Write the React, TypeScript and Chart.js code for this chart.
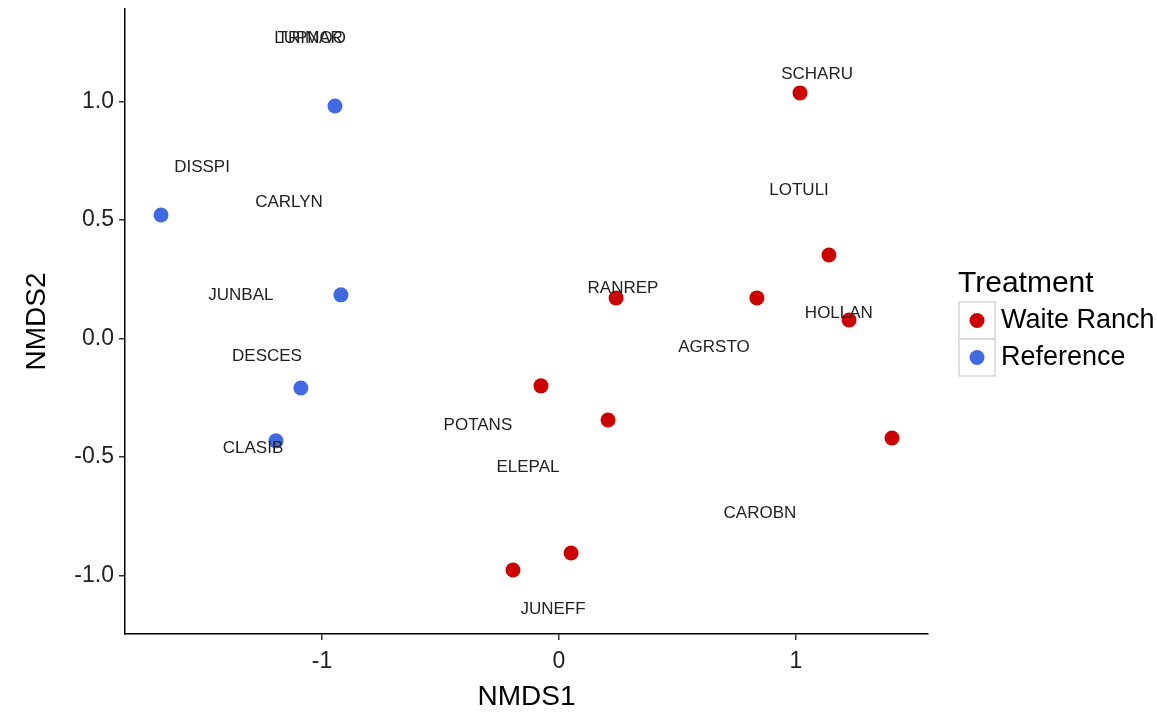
import React, { useEffect, useRef } from "react";
import { Chart, registerables } from "chart.js";

Chart.register(...registerables);

const waiteX = [1.017, 1.139, 0.835, 1.224, 0.241, -0.076, 0.207, 1.405, 0.051, -0.194];
const waiteY = [1.036, 0.352, 0.171, 0.078, 0.171, -0.2, -0.344, -0.42, -0.905, -0.977];

const refX = [-0.945, -1.679, -0.92, -1.089, -1.194];
const refY = [0.981, 0.521, 0.184, -0.209, -0.432];

const speciesNames = [
  "TRIMAR", "LUPNOO", "SCHARU", "DISSPI", "LOTULI", "CARLYN", "RANREP", "JUNBAL", "HOLLAN",
  "AGRSTO", "DESCES", "POTANS", "CLASIB", "ELEPAL", "CAROBN", "JUNEFF",
];
const speciesX = [
  -1.05, -1.05, 1.089, -1.506, 1.013, -1.139, 0.27, -1.342, 1.181,
  0.654, -1.232, -0.342, -1.291, -0.131, 0.848, -0.025,
];
const speciesY = [
  1.268, 1.268, 1.116, 0.724, 0.627, 0.576, 0.213, 0.184, 0.108,
  -0.036, -0.074, -0.365, -0.462, -0.542, -0.736, -1.141,
];

const xTicks = [-1, 0, 1];
const yTicks = [-1, -0.5, 0, 0.5, 1];

const seriesNames = ["Waite Ranch", "Reference"];
const seriesColors = ["#CC0000", "#4169E1"];
const legendTitle = "Treatment";

const FONT = '"Liberation Sans", Arial, sans-serif';

export default function App() {
  const ref = useRef<HTMLCanvasElement | null>(null);

  useEffect(() => {
    document.body.style.margin = "0";
    const canvas = ref.current!;

    const speciesPlugin = {
      id: "speciesLabels",
      afterDatasetsDraw(chart: any) {
        const ctx = chart.ctx;
        const xs = chart.scales.x;
        const ys = chart.scales.y;
        ctx.save();
        ctx.font = `17px ${FONT}`;
        ctx.fillStyle = "#222222";
        ctx.textAlign = "center";
        ctx.textBaseline = "middle";
        speciesNames.forEach((n, i) => {
          ctx.fillText(n, xs.getPixelForValue(speciesX[i]), ys.getPixelForValue(speciesY[i]));
        });
        ctx.restore();
      },
    };

    const legendPlugin = {
      id: "customLegend",
      afterDraw(chart: any) {
        const ctx = chart.ctx;
        const left = chart.chartArea.right + 31;
        ctx.save();
        ctx.fillStyle = "#000";
        ctx.font = `30px ${FONT}`;
        ctx.textAlign = "left";
        ctx.textBaseline = "middle";
        ctx.fillText(legendTitle, left - 1, 284);
        seriesNames.forEach((n, i) => {
          const top = 302 + i * 37;
          ctx.strokeStyle = "#d6d6d6";
          ctx.lineWidth = 1.5;
          ctx.strokeRect(left, top, 36, 37);
          ctx.beginPath();
          ctx.fillStyle = seriesColors[i];
          ctx.arc(left + 18, top + 18.5, 7.5, 0, Math.PI * 2);
          ctx.fill();
          ctx.fillStyle = "#000";
          ctx.font = `27px ${FONT}`;
          ctx.fillText(n, left + 42, top + 19);
        });
        ctx.restore();
      },
    };

    const chart = new Chart(canvas, {
      type: "scatter",
      data: {
        datasets: [
          {
            label: seriesNames[0],
            data: waiteX.map((x, i) => ({ x, y: waiteY[i] })),
            backgroundColor: seriesColors[0],
            borderWidth: 0,
            pointRadius: 7.5,
          },
          {
            label: seriesNames[1],
            data: refX.map((x, i) => ({ x, y: refY[i] })),
            backgroundColor: seriesColors[1],
            borderWidth: 0,
            pointRadius: 7.5,
          },
        ],
      },
      options: {
        animation: false,
        responsive: false,
        maintainAspectRatio: false,
        events: [],
        layout: { padding: { left: 0, top: 9, right: 229, bottom: 0 }, autoPadding: false },
        plugins: { legend: { display: false }, tooltip: { enabled: false } },
        scales: {
          x: {
            type: "linear",
            min: -1.831,
            max: 1.557,
            afterBuildTicks: (s: any) => {
              s.ticks = xTicks.map((v) => ({ value: v }));
            },
            afterFit: (s: any) => {
              s.height = 81;
              s.paddingLeft = 0;
              s.paddingRight = 0;
            },
            grid: { display: true, drawOnChartArea: false, drawTicks: true, tickLength: 6, color: "#333", lineWidth: 1.5 },
            border: { display: true, color: "#000", width: 1.5 },
            ticks: {
              color: "#222",
              font: { family: FONT, size: 23 },
              padding: 8,
              maxRotation: 0,
              callback: (v: any) => String(v),
            },
            title: { display: true, text: "NMDS1", color: "#000", font: { family: FONT, size: 28 }, padding: 1 },
          },
          y: {
            type: "linear",
            min: -1.247,
            max: 1.39,
            afterBuildTicks: (s: any) => {
              s.ticks = yTicks.map((v) => ({ value: v }));
            },
            afterFit: (s: any) => {
              s.width = 125;
              s.paddingTop = 0;
              s.paddingBottom = 0;
            },
            grid: { display: true, drawOnChartArea: false, drawTicks: true, tickLength: 6, color: "#333", lineWidth: 1.5 },
            border: { display: true, color: "#000", width: 1.5 },
            ticks: {
              color: "#222",
              font: { family: FONT, size: 23 },
              padding: 5,
              callback: (v: any) => Number(v).toFixed(1),
            },
            title: { display: true, text: "NMDS2", color: "#000", font: { family: FONT, size: 28 }, padding: 20 },
          },
        },
      },
      plugins: [speciesPlugin, legendPlugin],
    });
    return () => chart.destroy();
  }, []);

  return (
    <div style={{ width: 1157, height: 715, background: "#fff" }}>
      <canvas ref={ref} width={1157} height={715} />
    </div>
  );
}
